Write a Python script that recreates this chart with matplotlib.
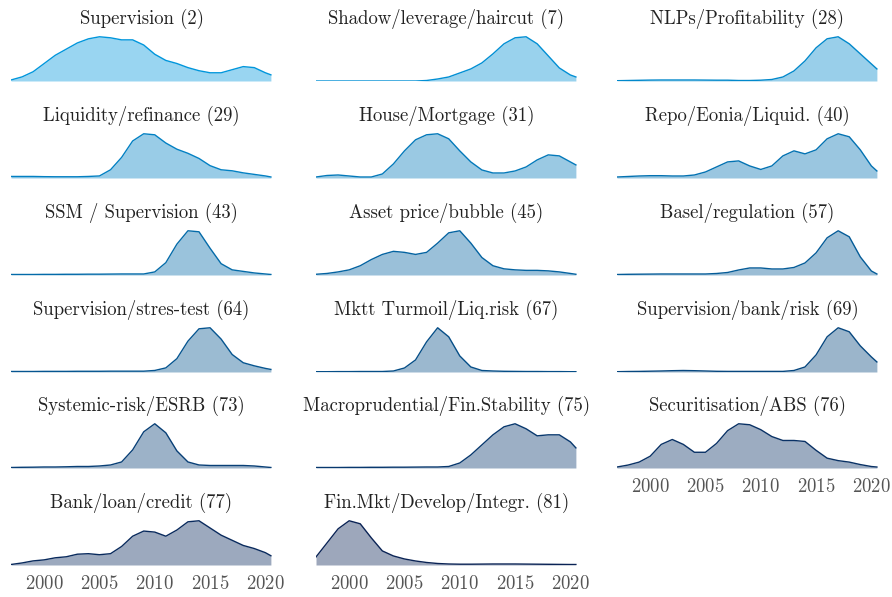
import numpy as np
import matplotlib
matplotlib.use("Agg")
import matplotlib.pyplot as plt
from matplotlib.colors import LinearSegmentedColormap

plt.rcParams["font.family"] = "cmr10"
plt.rcParams["axes.formatter.use_mathtext"] = True

years = list(range(1997, 2021)) + [2020.5]

titles = [
    "Supervision (2)", "Shadow/leverage/haircut (7)", "NLPs/Profitability (28)",
    "Liquidity/refinance (29)", "House/Mortgage (31)", "Repo/Eonia/Liquid. (40)",
    "SSM / Supervision (43)", "Asset price/bubble (45)", "Basel/regulation (57)",
    "Supervision/stres-test (64)", "Mktt Turmoil/Liq.risk (67)", "Supervision/bank/risk (69)",
    "Systemic-risk/ESRB (73)", "Macroprudential/Fin.Stability (75)", "Securitisation/ABS (76)",
    "Bank/loan/credit (77)", "Fin.Mkt/Develop/Integr. (81)",
]

# curve heights per year (1997..2020, 2020.5)
supervision = [1, 4, 9, 17, 25, 31, 37, 41, 43, 42, 40, 40, 35, 26, 20, 17, 13, 10, 8, 8, 11, 14, 13, 8, 6]
shadow = [0, 0, 0, 0, 0, 0, 0, 0, 0, 0, 0.5, 2, 4, 8, 12, 18, 27, 37, 43, 44, 37, 25, 13, 6, 4]
nlps = [0.3, 0.5, 0.7, 0.9, 1, 1, 1, 1, 0.9, 0.8, 0.8, 0.5, 0.5, 0.8, 1.5, 4, 10, 20, 33, 42, 44, 37, 27, 17, 12]
liquidity = [1.5, 1.5, 1.5, 1.3, 1.2, 1.2, 1.2, 1.5, 2, 8, 20, 36, 43, 42, 34, 28, 24, 19, 12, 8, 7, 5, 3.5, 2, 1]
house = [1, 2.5, 3, 2, 1, 1, 4, 14, 27, 38, 43, 44, 39, 27, 16, 8, 5, 5, 7, 11, 18, 23, 22, 16, 13]
repo = [1, 1.5, 2, 2.3, 2.3, 2, 2, 3, 6, 11, 16, 17, 12, 8.5, 12, 22, 27, 24, 28, 39, 44, 41, 28, 12, 7]
ssm = [0.5, 0.5, 0.5, 0.6, 0.6, 0.7, 0.7, 0.8, 0.8, 0.9, 1, 1, 1, 3, 12, 30, 43, 42, 26, 11, 5, 3.5, 2, 1, 0.5]
asset = [0.7, 1.5, 3, 5, 9, 15, 20, 23, 22, 20, 22, 31, 41, 43, 31, 17, 9, 6, 5, 4.5, 4.5, 4, 3, 1.5, 0.7]
basel = [0.5, 0.7, 0.8, 0.9, 1, 1, 1, 1, 1, 1.5, 2.5, 5, 7, 7, 6, 6, 7.5, 12, 22, 37, 44, 38, 18, 4, 1]
stress = [0.5, 0.5, 0.5, 0.6, 0.6, 0.6, 0.7, 0.7, 0.7, 0.8, 0.8, 0.8, 0.8, 1.5, 4, 13, 30, 42, 43, 32, 17, 9, 6, 3.5, 2.5]
turmoil = [0.3, 0.3, 0.4, 0.4, 0.5, 0.5, 0.5, 1, 4, 12, 30, 44, 35, 16, 5, 1.5, 1, 0.7, 0.6, 0.5, 0.5, 0.4, 0.4, 0.3, 0.3]
bankrisk = [0.3, 0.5, 0.6, 0.8, 1, 1.3, 1.5, 1.3, 1, 0.7, 0.6, 0.6, 0.6, 0.6, 0.6, 0.6, 1.5, 5, 17, 35, 44, 40, 26, 15, 10]
esrb = [0.5, 0.7, 0.8, 1, 1, 1.2, 1.5, 1.5, 2, 3, 6, 18, 36, 44, 35, 17, 6, 3, 2.5, 2.5, 2.5, 2.5, 2, 1, 0.5]
macro = [0.5, 0.5, 0.5, 0.6, 0.6, 0.7, 0.7, 0.8, 0.8, 0.9, 1, 1, 1.5, 5, 13, 23, 33, 41, 44, 39, 32, 33, 33, 26, 20]
securit = [1, 3, 6, 12, 24, 29, 24, 16, 16, 25, 38, 45, 44, 39, 32, 28, 28, 27, 18, 10, 7.5, 6, 3.5, 1.5, 1]
bankloan = [0.5, 2, 4, 5, 7, 8, 10.5, 11, 10, 11, 18, 28, 33, 32, 28, 34, 42, 43, 36, 29, 24, 19, 16, 12, 9]
finmkt = [8, 22, 36, 44, 41, 27, 14, 9, 6, 4, 2.5, 1.5, 1, 0.8, 0.8, 0.9, 1, 1, 1, 0.9, 0.8, 0.7, 0.6, 0.5, 0.5]

series = [supervision, shadow, nlps, liquidity, house, repo, ssm, asset, basel,
          stress, turmoil, bankrisk, esrb, macro, securit, bankloan, finmkt]

cmap = LinearSegmentedColormap.from_list("topics", ["#0096dc", "#0a2355"])

W, H = 892, 597
fig = plt.figure(figsize=(W / 100, H / 100), dpi=100)

col_left = [11, 316, 617]
row_base = [81, 178, 275, 372, 468, 565]
aw, ah = 261, 46

for i, (title, vals) in enumerate(zip(titles, series)):
    r, c = divmod(i, 3)
    ax = fig.add_axes([col_left[c] / W, (H - row_base[r]) / H, aw / W, ah / H])
    col = cmap(i / (len(series) - 1))
    ax.fill_between(years, vals, color=col, alpha=0.4, linewidth=0)
    ax.plot(years, vals, color=col, lw=1.0)
    ax.set_xlim(1997, 2020.6)
    ax.set_ylim(0, max(vals) * 1.04)
    ax.set_yticks([])
    for s in ax.spines.values():
        s.set_visible(False)
    ax.set_title(title, fontsize=13.5, color="#222222", pad=8)
    if i + 3 >= len(series):
        ax.set_xticks([2000, 2005, 2010, 2015, 2020])
        ax.tick_params(axis="x", length=0, pad=7, labelsize=13.5, labelcolor="#555555")
    else:
        ax.set_xticks([])

fig.savefig("out.png", dpi=100)
